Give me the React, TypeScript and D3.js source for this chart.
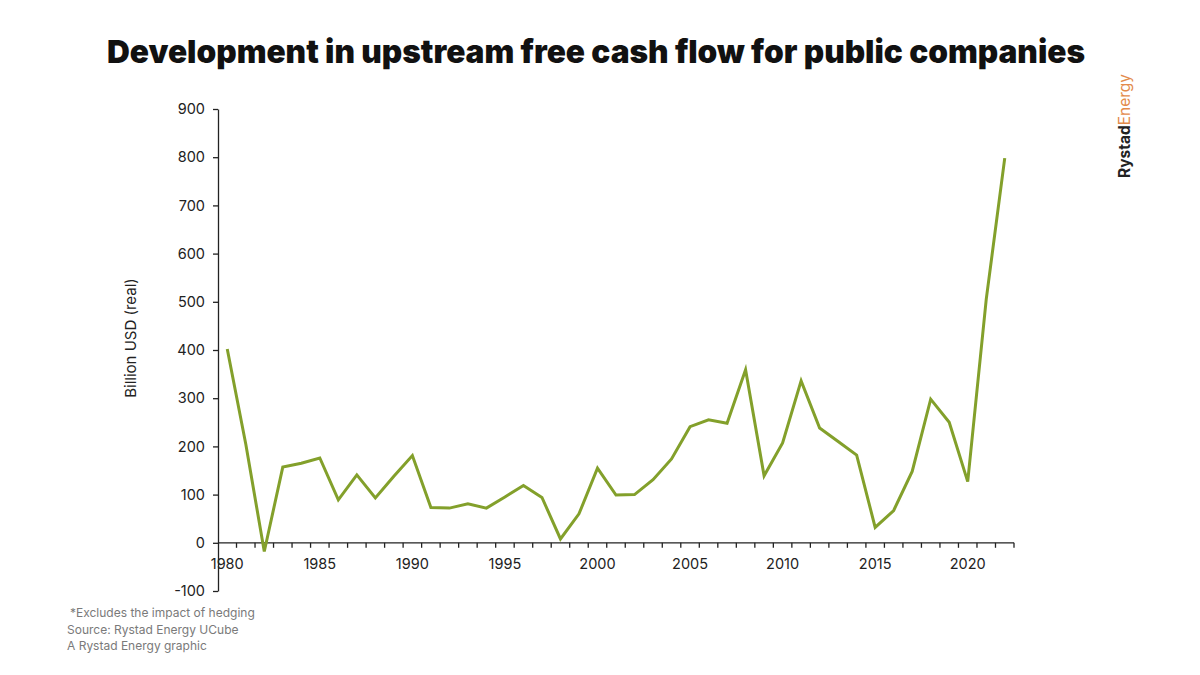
import { useEffect, useRef } from 'react';
import * as d3 from 'd3';

const years = [
  1980, 1981, 1982, 1983, 1984, 1985, 1986, 1987, 1988, 1989, 1990, 1991, 1992, 1993, 1994,
  1995, 1996, 1997, 1998, 1999, 2000, 2001, 2002, 2003, 2004, 2005, 2006, 2007, 2008, 2009,
  2010, 2011, 2012, 2013, 2014, 2015, 2016, 2017, 2018, 2019, 2020, 2021, 2022,
];
const freeCashFlow = [
  402, 205, -18, 157, 165, 176, 89, 141, 93, 138, 181, 73, 72, 81, 72,
  95, 119, 94, 8, 60, 155, 99, 100, 131, 174, 241, 255, 248, 359, 139,
  207, 336, 238, 210, 182, 32, 67, 148, 298, 250, 127, 505, 798,
];
const yTicks = [-100, 0, 100, 200, 300, 400, 500, 600, 700, 800, 900];
const footnotes = ['*Excludes the impact of hedging', 'Source: Rystad Energy UCube', 'A Rystad Energy graphic'];

const FONT = 'Inter, "Liberation Sans", sans-serif';

export default function App() {
  const ref = useRef<SVGSVGElement>(null);

  useEffect(() => {
    const svgElement = ref.current;
    if (!svgElement) {
      return;
    }
    const svg = d3.select(svgElement);
    svg.selectAll('*').remove();

    const width = 1200;
    const height = 675;
    svg.attr('viewBox', `0 0 ${width} ${height}`);

    svg.append('rect').attr('width', width).attr('height', height).attr('fill', '#ffffff');

    const x = d3
      .scaleBand<number>()
      .domain(years)
      .range([218, 1014])
      .paddingInner(0)
      .paddingOuter(0);
    const y = d3.scaleLinear().domain([-100, 900]).range([591, 109]);

    // title
    svg
      .append('text')
      .attr('x', 596)
      .attr('y', 63)
      .attr('text-anchor', 'middle')
      .attr('font-family', FONT)
      .attr('font-weight', 900)
      .attr('font-size', 32)
      .attr('fill', '#111')
      .attr('textLength', 978)
      .attr('lengthAdjust', 'spacingAndGlyphs')
      .text('Development in upstream free cash flow for public companies');

    // y axis
    const yAxis = svg
      .append('g')
      .attr('transform', `translate(${x.range()[0]},0)`)
      .call(
        d3
          .axisLeft(y)
          .tickValues(yTicks)
          .tickFormat((d) => String(d))
          .tickSize(5)
          .tickPadding(8)
          .tickSizeOuter(0)
      );
    yAxis.select('.domain').attr('stroke', '#222').attr('stroke-width', 1.3);
    yAxis.selectAll('.tick line').attr('stroke', '#222').attr('stroke-width', 1.3);
    yAxis
      .selectAll('.tick text')
      .attr('font-family', FONT)
      .attr('font-size', 14.5)
      .attr('fill', '#222');

    // x axis: ticks between years, labels every 5 years
    const xAxisG = svg.append('g').attr('transform', `translate(0,${y(0)})`);
    xAxisG
      .append('line')
      .attr('x1', x.range()[0])
      .attr('x2', x.range()[1])
      .attr('stroke', '#222')
      .attr('stroke-width', 1.3);
    const boundaries = years.map((yr) => x(yr) as number).concat([x.range()[1]]);
    xAxisG
      .selectAll('line.tick')
      .data(boundaries.slice(1))
      .join('line')
      .attr('class', 'tick')
      .attr('x1', (d) => d)
      .attr('x2', (d) => d)
      .attr('y1', 0)
      .attr('y2', 5)
      .attr('stroke', '#222')
      .attr('stroke-width', 1.3);
    xAxisG
      .selectAll('text')
      .data(years.filter((yr) => yr % 5 === 0))
      .join('text')
      .attr('x', (d) => (x(d) as number) + x.bandwidth() / 2)
      .attr('y', 26)
      .attr('text-anchor', 'middle')
      .attr('font-family', FONT)
      .attr('font-size', 14.5)
      .attr('fill', '#222')
      .text((d) => String(d));

    // line
    const data = years.map((yr, i) => ({ year: yr, value: freeCashFlow[i] }));
    const line = d3
      .line<{ year: number; value: number }>()
      .x((d) => (x(d.year) as number) + x.bandwidth() / 2)
      .y((d) => y(d.value));
    svg
      .append('path')
      .datum(data)
      .attr('d', line)
      .attr('fill', 'none')
      .attr('stroke', '#83a02b')
      .attr('stroke-width', 3)
      .attr('stroke-linejoin', 'miter');

    // y axis title
    svg
      .append('text')
      .attr('transform', `translate(136,${338}) rotate(-90)`)
      .attr('text-anchor', 'middle')
      .attr('font-family', FONT)
      .attr('font-size', 15)
      .attr('fill', '#222')
      .text('Billion USD (real)');

    // logo
    const logo = svg
      .append('text')
      .attr('transform', 'translate(1130,178) rotate(-90)')
      .attr('font-family', FONT)
      .attr('font-size', 15.5);
    logo.append('tspan').attr('font-weight', 700).attr('fill', '#222').text('Rystad');
    logo.append('tspan').attr('font-weight', 400).attr('fill', '#e38b4b').text('Energy');

    // footnotes
    svg
      .append('g')
      .selectAll('text')
      .data(footnotes)
      .join('text')
      .attr('x', (_d, i) => (i === 0 ? 70 : 67))
      .attr('y', (_d, i) => 617 + i * 16.5)
      .attr('font-family', FONT)
      .attr('font-size', 12)
      .attr('fill', '#7a7a7a')
      .text((d) => d);
  }, []);

  return (
    <svg
      ref={ref}
      width={1200}
      height={675}
      style={{ position: 'absolute', left: 0, top: 0, display: 'block' }}
    />
  );
}
